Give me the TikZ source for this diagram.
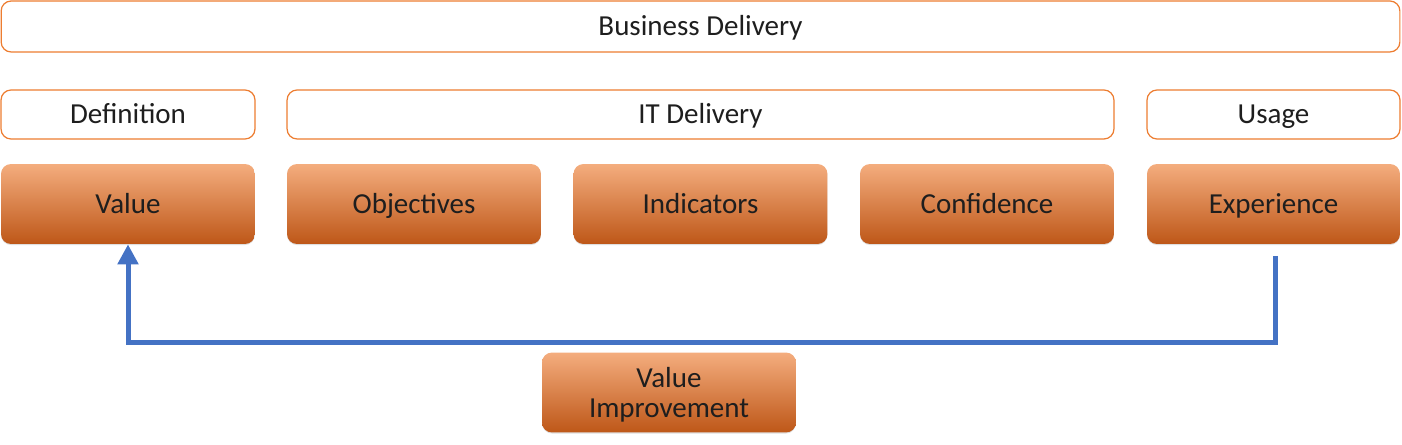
\documentclass[tikz,border=0pt]{standalone}
\usepackage{fontspec}
\setmainfont{Carlito}
\usetikzlibrary{arrows.meta,shadows}

\definecolor{orangeline}{HTML}{ED7D31}
\definecolor{orangetop}{HTML}{F4AD7E}
\definecolor{orangemid}{HTML}{EE8A48}
\definecolor{orangebot}{HTML}{BE5718}
\definecolor{arrowblue}{HTML}{4472C4}
\definecolor{textgray}{HTML}{1E1E1E}

\tikzset{
  one line/.style={text height=10.6pt, text depth=0pt},
  phase/.style={draw=orangeline, line width=0.7pt, rounded corners=0.2cm, fill=white,
    minimum height=0.98cm, inner sep=0pt, text=textgray, one line,
    font=\fontsize{16.5}{19}\selectfont},
  step box/.style={rounded corners=0.2cm, minimum width=5.08cm, minimum height=1.6cm,
    inner sep=0pt, top color=orangetop, middle color=orangemid, bottom color=orangebot,
    drop shadow={opacity=0.25, shadow xshift=0pt, shadow yshift=-0.6pt},
    text=textgray, align=center, font=\fontsize{16.5}{19}\selectfont},
  feedback/.style={draw=arrowblue, line width=0.1cm,
    -{Triangle[length=0.4cm,width=0.4cm]}}
}

\begin{document}
\begin{tikzpicture}[x=0.02cm,y=-0.02cm]
  \useasboundingbox (0,0) rectangle (1402,445);

  %phases
  \node[phase, minimum width=27.98cm, minimum height=1.02cm] (bizdel) at (700.5,26.5) {Business Delivery};
  \node[phase, minimum width=5.08cm] (defn) at (128,114.5) {Definition};
  \node[phase, minimum width=16.54cm] (itdel) at (700.5,114.5) {IT Delivery};
  \node[phase, minimum width=5.06cm] (usage) at (1273.5,114.5) {Usage};

  %steps
  \node[step box, one line] (val) at (128,204) {Value};
  \node[step box, one line] (obj) at (414,204) {Objectives};
  \node[step box, one line] (ind) at (700.5,204) {Indicators};
  \node[step box, one line] (conf) at (987,204) {Confidence};
  \node[step box, one line, minimum width=5.06cm] (exp) at (1273.5,204) {Experience};

  \node[step box, text depth=0pt] (valimp) at (669,392.5) {Value\\[-2pt]Improvement};

  %feedback loop
  \coordinate (fbstart) at (1275,256);
  \coordinate (fbcorner) at (1275,343);
  \draw[feedback] (fbstart) -- (fbcorner) -| (val.south);

\end{tikzpicture}
\end{document}
